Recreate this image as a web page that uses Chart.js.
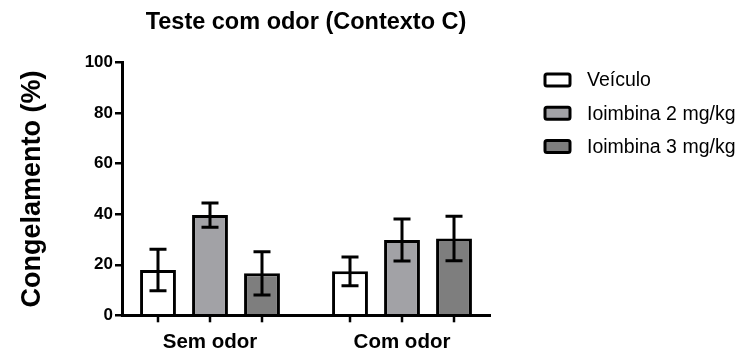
<!DOCTYPE html>
<html>
<head>
<meta charset="utf-8">
<script src="https://cdn.jsdelivr.net/npm/chart.js@4/dist/chart.umd.min.js"></script>
<style>
  html, body { margin: 0; padding: 0; background: #fff; }
  #wrap { width: 741px; height: 356px; }
</style>
</head>
<body>
<div id="wrap"><canvas id="c" width="741" height="356"></canvas></div>
<script>
// Freezing (%) per group, mean and SEM
const categories = ['Sem odor', 'Com odor'];
const seriesNames = ['Veículo', 'Ioimbina 2 mg/kg', 'Ioimbina 3 mg/kg'];
const veiculo = [17.9, 17.4];
const veiculoSem = [8.2, 5.7];
const ioimbina2 = [39.7, 29.8];
const ioimbina2Sem = [4.8, 8.3];
const ioimbina3 = [16.6, 30.4];
const ioimbina3Sem = [8.6, 8.8];
const yTicks = [0, 20, 40, 60, 80, 100];

const FONT = '"Liberation Sans", Arial, Helvetica, sans-serif';
Chart.defaults.font.family = FONT;
Chart.defaults.color = '#000';

const means = [veiculo, ioimbina2, ioimbina3];
const sems = [veiculoSem, ioimbina2Sem, ioimbina3Sem];
const fills = ['#ffffff', '#a2a2a6', '#7e7e7e'];

// Error bars plus a tick mark under every bar
const errorBars = {
  id: 'errorBars',
  afterDatasetsDraw(chart) {
    const ctx = chart.ctx;
    const y = chart.scales.y;
    const area = chart.chartArea;
    ctx.save();
    ctx.strokeStyle = '#000';
    ctx.lineCap = 'butt';
    chart.data.datasets.forEach((ds, di) => {
      const meta = chart.getDatasetMeta(di);
      meta.data.forEach((bar, i) => {
        const m = means[di][i], s = sems[di][i];
        const yt = y.getPixelForValue(m + s);
        const yb = y.getPixelForValue(m - s);
        const cap = 8.5;
        ctx.lineWidth = 3;
        ctx.beginPath();
        ctx.moveTo(bar.x, yt); ctx.lineTo(bar.x, yb);
        ctx.moveTo(bar.x - cap, yt); ctx.lineTo(bar.x + cap, yt);
        ctx.moveTo(bar.x - cap, yb); ctx.lineTo(bar.x + cap, yb);
        ctx.stroke();
        ctx.lineWidth = 2.5;
        ctx.beginPath();
        ctx.moveTo(bar.x, area.bottom); ctx.lineTo(bar.x, area.bottom + 7);
        ctx.stroke();
      });
    });
    ctx.restore();
  }
};

// Legend drawn to the right of the plot
const sideLegend = {
  id: 'sideLegend',
  afterDraw(chart) {
    const ctx = chart.ctx;
    const a = chart.chartArea;
    const boxX = a.right + 55, textX = a.right + 97;
    const rows = [80, 113.3, 146.6];
    ctx.save();
    ctx.font = '19.5px ' + FONT;
    ctx.textBaseline = 'middle';
    ctx.textAlign = 'left';
    chart.data.datasets.forEach((ds, i) => {
      const cy = rows[i];
      ctx.fillStyle = ds.backgroundColor;
      ctx.strokeStyle = '#000';
      ctx.lineWidth = 3;
      ctx.beginPath();
      ctx.roundRect(boxX, cy - 6, 25, 12, 2);
      ctx.fill();
      ctx.stroke();
      ctx.fillStyle = '#000';
      ctx.fillText(ds.label, textX, cy + 1);
    });
    ctx.restore();
  }
};

const datasets = seriesNames.map((name, k) => ({
  label: name,
  data: means[k].map((v, i) => ({ x: i, y: v })),
  backgroundColor: fills[k],
  borderColor: '#000',
  borderWidth: 3,
  categoryPercentage: 0.8125,
  barPercentage: 0.69
}));

new Chart(document.getElementById('c'), {
  type: 'bar',
  data: { datasets },
  plugins: [errorBars, sideLegend],
  options: {
    responsive: false,
    animation: false,
    layout: { padding: { left: 0, right: 251, top: 0, bottom: 0 } },
    plugins: {
      legend: { display: false },
      tooltip: { enabled: false },
      title: {
        display: true,
        fullSize: false,
        text: 'Teste com odor (Contexto C)',
        font: { size: 23.5, weight: 'bold' },
        color: '#000',
        padding: { top: 8.8, bottom: 25.7 }
      }
    },
    scales: {
      x: {
        type: 'linear',
        min: -0.4583,
        max: 1.4583,
        offset: false,
        afterBuildTicks(scale) { scale.ticks = categories.map((_, i) => ({ value: i })); },
        afterFit(scale) { scale.height = 356 - 315.3; },
        grid: { display: false, drawTicks: false, offset: false },
        border: { display: true, color: '#000', width: 3 },
        ticks: {
          autoSkip: false,
          maxRotation: 0,
          padding: 15,
          font: { size: 20.5, weight: 'bold' },
          color: '#000',
          callback: (v) => categories[v] ?? ''
        }
      },
      y: {
        min: 0,
        max: 100,
        afterBuildTicks(scale) { scale.ticks = yTicks.map(v => ({ value: v })); },
        afterFit(scale) { scale.width = 122; },
        grid: { drawOnChartArea: false, drawTicks: true, tickLength: 7, color: '#000', lineWidth: 2.5 },
        border: { display: true, color: '#000', width: 3 },
        ticks: { padding: 2, font: { size: 17, weight: 'bold' }, color: '#000' },
        title: {
          display: true,
          text: 'Congelamento (%)',
          font: { size: 27, weight: 'bold' },
          color: '#000',
          padding: { top: 16, bottom: 0 }
        }
      }
    }
  }
});
</script>
</body>
</html>
